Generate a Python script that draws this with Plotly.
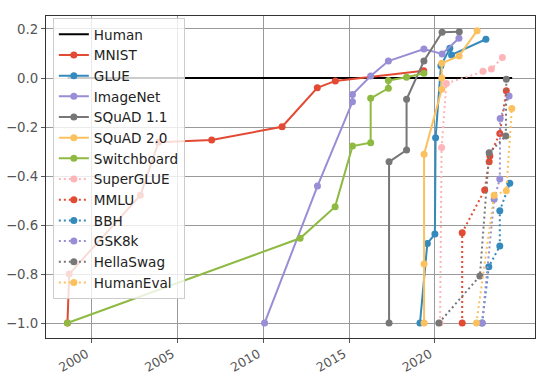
import plotly.graph_objects as go

# ---- data ----
human_x = [1998.6, 2024.5]
human_y = [0.0, 0.0]

mnist_x = [1998.6, 1998.7, 2002.85, 2003.9, 2007.0, 2011.1, 2013.15, 2014.2, 2019.35]
mnist_y = [-1.0, -0.8, -0.478, -0.262, -0.253, -0.199, -0.04, -0.012, 0.03]

glue_x = [2019.13, 2019.56, 2020.0, 2020.04, 2020.35, 2020.87, 2020.97, 2022.97]
glue_y = [-1.0, -0.675, -0.637, -0.244, 0.05, 0.121, 0.094, 0.158]

imagenet_x = [2010.08, 2013.16, 2015.2, 2015.2, 2016.26, 2017.29, 2019.36, 2020.42, 2021.4]
imagenet_y = [-1.0, -0.441, -0.097, -0.067, 0.008, 0.069, 0.118, 0.098, 0.162]

squad11_x = [2017.33, 2017.33, 2018.35, 2018.35, 2019.36, 2020.42, 2021.42]
squad11_y = [-1.0, -0.342, -0.294, -0.087, 0.069, 0.187, 0.189]

squad20_x = [2019.37, 2019.37, 2019.37, 2020.4, 2020.4, 2020.4, 2021.41, 2022.46]
squad20_y = [-1.0, -0.759, -0.311, -0.046, 0.0, 0.06, 0.09, 0.193]

switchboard_x = [1998.6, 2012.15, 2014.19, 2015.2, 2016.26, 2016.26, 2017.29, 2017.29, 2018.35, 2019.36]
switchboard_y = [-1.0, -0.654, -0.525, -0.278, -0.264, -0.083, -0.042, -0.01, 0.003, 0.019]

superglue_x = [2020.3, 2020.39, 2020.67, 2022.8, 2023.29, 2023.93]
superglue_y = [-1.0, -0.284, -0.022, 0.028, 0.037, 0.084]

mmlu_x = [2021.59, 2021.59, 2022.9, 2023.16, 2023.2, 2023.78, 2024.16]
mmlu_y = [-1.0, -0.631, -0.457, -0.342, -0.318, -0.226, -0.052]

bbh_x = [2022.75, 2023.14, 2023.78, 2023.78, 2024.36]
bbh_y = [-1.0, -0.77, -0.686, -0.542, -0.43]

gsm8k_x = [2022.75, 2023.45, 2023.78, 2023.8, 2024.32]
gsm8k_y = [-1.0, -0.495, -0.412, -0.165, -0.073]

hellaswag_x = [2020.23, 2022.62, 2023.16, 2024.13, 2024.16]
hellaswag_y = [-1.0, -0.808, -0.305, -0.237, -0.005]

humaneval_x = [2022.42, 2023.45, 2024.16, 2024.48]
humaneval_y = [-1.0, -0.478, -0.46, -0.124]

x_tick_vals = [2000, 2005, 2010, 2015, 2020]
x_tick_text = ["2000", "2005", "2010", "2015", "2020"]
y_tick_vals = [-1.0, -0.8, -0.6, -0.4, -0.2, 0.0, 0.2]
y_tick_text = ["\u22121.0", "\u22120.8", "\u22120.6", "\u22120.4", "\u22120.2", "0.0", "0.2"]

# ---- styling ----
RED, BLUE, PURPLE, GRAY, YELLOW, GREEN, PINK = (
    "#E24A33", "#348ABD", "#988ED5", "#777777", "#FBC15E", "#8EBA42", "#FFB5B8")

series = [
    ("MNIST", mnist_x, mnist_y, RED, "solid"),
    ("GLUE", glue_x, glue_y, BLUE, "solid"),
    ("ImageNet", imagenet_x, imagenet_y, PURPLE, "solid"),
    ("SQuAD 1.1", squad11_x, squad11_y, GRAY, "solid"),
    ("SQuAD 2.0", squad20_x, squad20_y, YELLOW, "solid"),
    ("Switchboard", switchboard_x, switchboard_y, GREEN, "solid"),
    ("SuperGLUE", superglue_x, superglue_y, PINK, "dot"),
    ("MMLU", mmlu_x, mmlu_y, RED, "dot"),
    ("BBH", bbh_x, bbh_y, BLUE, "dot"),
    ("GSK8k", gsm8k_x, gsm8k_y, PURPLE, "dot"),
    ("HellaSwag", hellaswag_x, hellaswag_y, GRAY, "dot"),
    ("HumanEval", humaneval_x, humaneval_y, YELLOW, "dot"),
]

fig = go.Figure()
fig.add_trace(go.Scatter(x=human_x, y=human_y, mode="lines", name="Human",
                         line=dict(color="black", width=2), legendgroup="Human"))
for name, xs, ys, col, dash in series:
    fig.add_trace(go.Scatter(
        x=xs, y=ys, mode="lines+markers", name=name, legendgroup=name,
        line=dict(color=col, width=2, dash="2px,3px" if dash == "dot" else "solid"),
        marker=dict(color=col, size=7, symbol="circle"),
    ))

axis_common = dict(
    showgrid=True, gridcolor="#9a9a9a", gridwidth=1,
    showline=True, linecolor="#333333", linewidth=1.3, mirror=True,
    ticks="outside", ticklen=4, tickcolor="#555555", zeroline=False,
    automargin=False,
)

fig.update_layout(
    width=540, height=372,
    margin=dict(l=46, r=5, t=16, b=34),
    paper_bgcolor="white", plot_bgcolor="white",
    showlegend=True,
    legend=dict(
        x=0.014, y=0.994, xanchor="left", yanchor="top",
        bgcolor="rgba(255,255,255,0.8)", bordercolor="#cccccc", borderwidth=1,
        font=dict(family="DejaVu Sans", size=13.6, color="#222222"),
        tracegroupgap=0, itemwidth=30,
    ),
    xaxis=dict(range=[1997.35, 2025.83], tickvals=x_tick_vals, ticktext=x_tick_text,
               tickangle=-30, ticklabelshift=-5, ticklabelstandoff=-1,
               tickfont=dict(family="DejaVu Sans", size=12.5, color="#555555"),
               **axis_common),
    yaxis=dict(range=[-1.061, 0.253], tickvals=y_tick_vals, ticktext=y_tick_text,
               tickfont=dict(family="DejaVu Sans", size=13.3, color="#555555"),
               **axis_common),
)

fig.write_html(
    "out.html",
    config={"displayModeBar": False},
    post_script="document.body.style.margin='0';document.body.style.padding='0';"
                "document.documentElement.style.overflow='hidden';",
)
